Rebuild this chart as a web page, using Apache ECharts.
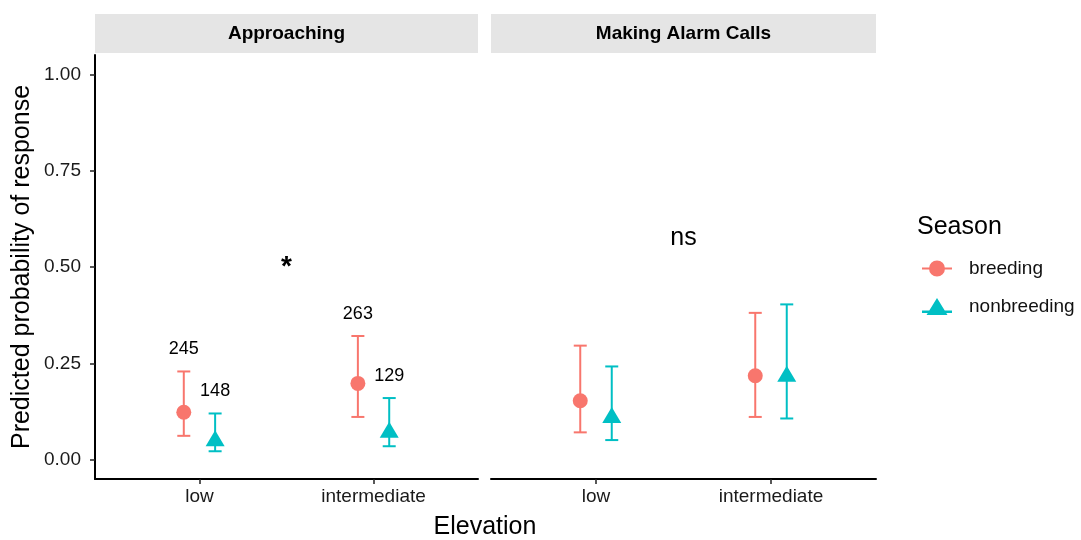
<!DOCTYPE html>
<html>
<head>
<meta charset="utf-8">
<script src="https://cdn.jsdelivr.net/npm/echarts@6/dist/echarts.min.js"></script>
<style>
  html, body { margin: 0; padding: 0; background: #fff; }
  #chart { width: 1081px; height: 540px; }
</style>
</head>
<body>
<div id="chart"></div>
<script>
// data
const elevations = ['low', 'intermediate']
const panels = ['Approaching', 'Making Alarm Calls']
const seasons = ['breeding', 'nonbreeding']

const approachBreedingFit = [0.123, 0.198]
const approachBreedingLow = [0.062, 0.111]
const approachBreedingHigh = [0.229, 0.321]
const approachNonFit = [0.056, 0.078]
const approachNonLow = [0.022, 0.035]
const approachNonHigh = [0.120, 0.160]

const alarmBreedingFit = [0.153, 0.218]
const alarmBreedingLow = [0.071, 0.111]
const alarmBreedingHigh = [0.296, 0.381]
const alarmNonFit = [0.116, 0.223]
const alarmNonLow = [0.051, 0.107]
const alarmNonHigh = [0.242, 0.403]

// sample sizes written above the Approaching points
const countsBreeding = ['245', '263']
const countsBreedingY = [0.287, 0.379]
const countsNon = ['148', '129']
const countsNonY = [0.178, 0.218]

const yTicks = [0, 0.25, 0.5, 0.75, 1]
const sigLabels = ['*', 'ns']
const sigY = [0.5, 0.575]

const colors = { breeding: '#F8766D', nonbreeding: '#00BFC4' }
const dodge = 0.09
const FONT = 'Liberation Sans, Arial, sans-serif'

const chart = echarts.init(document.getElementById('chart'))

function errorBars(name, lows, highs, offset, axisIdx) {
  return {
    type: 'custom',
    name: name + '_err',
    xAxisIndex: axisIdx,
    yAxisIndex: axisIdx,
    z: 2,
    silent: true,
    data: lows.map((lo, i) => [i + 1 + offset, lo, highs[i]]),
    renderItem(params, api) {
      const x = api.value(0)
      const lo = api.coord([x, api.value(1)])
      const hi = api.coord([x, api.value(2)])
      const half = 6.5
      const style = { stroke: colors[name], lineWidth: 2 }
      return {
        type: 'group',
        children: [
          { type: 'line', shape: { x1: lo[0], y1: lo[1], x2: hi[0], y2: hi[1] }, style },
          { type: 'line', shape: { x1: lo[0] - half, y1: lo[1], x2: lo[0] + half, y2: lo[1] }, style },
          { type: 'line', shape: { x1: hi[0] - half, y1: hi[1], x2: hi[0] + half, y2: hi[1] }, style }
        ]
      }
    }
  }
}

function points(name, fits, offset, axisIdx) {
  return {
    type: 'scatter',
    name: name,
    xAxisIndex: axisIdx,
    yAxisIndex: axisIdx,
    z: 3,
    symbol: name === 'breeding' ? 'circle' : 'triangle',
    symbolSize: name === 'breeding' ? 15 : [19, 16],
    itemStyle: { color: colors[name], opacity: 1 },
    data: fits.map((v, i) => [i + 1 + offset, v])
  }
}

function textMarks(labels, ys, offset, axisIdx, fontSize, bold) {
  return {
    type: 'scatter',
    xAxisIndex: axisIdx,
    yAxisIndex: axisIdx,
    symbolSize: 0,
    silent: true,
    z: 4,
    itemStyle: { opacity: 1 },
    label: {
      show: true,
      position: 'inside',
      formatter: p => p.name,
      color: '#000',
      fontFamily: FONT,
      fontSize: fontSize,
      fontWeight: bold ? 'bold' : 'normal'
    },
    data: labels.map((t, i) => ({ name: t, value: [offset[i], ys[i]] }))
  }
}

const grids = [
  { left: 95, top: 55, width: 383, height: 424 },
  { left: 491, top: 55, width: 385, height: 424 }
]

const xAxes = grids.map((g, i) => ({
  type: 'value',
  gridIndex: i,
  min: 0.4,
  max: 2.6,
  splitLine: { show: false },
  axisLine: { show: true, onZero: false, lineStyle: { color: '#000', width: 2 } },
  axisTick: { show: true, customValues: [1, 2], length: 5, lineStyle: { color: '#222', width: 1.5 } },
  axisLabel: {
    customValues: [1, 2],
    formatter: v => elevations[Math.round(v) - 1],
    color: '#1a1a1a',
    fontFamily: FONT,
    fontSize: 19,
    margin: 8
  }
}))

const yAxes = grids.map((g, i) => ({
  type: 'value',
  gridIndex: i,
  min: -0.05,
  max: 1.05,
  show: i === 0,
  name: i === 0 ? 'Predicted probability of response' : '',
  nameLocation: 'middle',
  nameGap: 60,
  nameTextStyle: { fontFamily: FONT, fontSize: 25, color: '#000' },
  splitLine: { show: false },
  axisLine: { show: true, onZero: false, lineStyle: { color: '#000', width: 2 } },
  axisTick: { show: true, customValues: yTicks, length: 5, lineStyle: { color: '#222', width: 1.5 } },
  axisLabel: {
    customValues: yTicks,
    formatter: v => v.toFixed(2),
    color: '#1a1a1a',
    fontFamily: FONT,
    fontSize: 19,
    margin: 14
  }
}))

const series = [
  errorBars('breeding', approachBreedingLow, approachBreedingHigh, -dodge, 0),
  errorBars('nonbreeding', approachNonLow, approachNonHigh, dodge, 0),
  errorBars('breeding', alarmBreedingLow, alarmBreedingHigh, -dodge, 1),
  errorBars('nonbreeding', alarmNonLow, alarmNonHigh, dodge, 1),
  points('breeding', approachBreedingFit, -dodge, 0),
  points('nonbreeding', approachNonFit, dodge, 0),
  points('breeding', alarmBreedingFit, -dodge, 1),
  points('nonbreeding', alarmNonFit, dodge, 1),
  textMarks(countsBreeding, countsBreedingY, [1 - dodge, 2 - dodge], 0, 18, false),
  textMarks(countsNon, countsNonY, [1 + dodge, 2 + dodge], 0, 18, false),
  textMarks([sigLabels[0]], [sigY[0]], [1.5], 0, 28, true),
  textMarks([sigLabels[1]], [sigY[1]], [1.5], 1, 25, false)
]

// facet strips
const strips = grids.map((g, i) => ({
  type: 'group',
  children: [
    { type: 'rect', shape: { x: g.left, y: 14, width: g.width, height: 39 }, style: { fill: '#E5E5E5' } },
    {
      type: 'text',
      x: g.left + g.width / 2,
      y: 34,
      style: {
        text: panels[i],
        fill: '#000',
        font: 'bold 19px ' + FONT,
        textAlign: 'center',
        textVerticalAlign: 'middle'
      }
    }
  ]
}))

chart.setOption({
  animation: false,
  backgroundColor: '#fff',
  title: {
    text: 'Season',
    left: 912,
    top: 210,
    textStyle: { fontFamily: FONT, fontSize: 25, fontWeight: 'normal', color: '#000' }
  },
  legend: {
    data: [
      { name: 'breeding', icon: 'path://M0,8 L30,8 L30,10 L0,10 Z M15,1 A8,8 0 1 1 14.99,1 Z' },
      { name: 'nonbreeding', icon: 'path://M0,12.5 L30,12.5 L30,15 L0,15 Z M15,0 L25.5,17 L4.5,17 Z' }
    ],
    orient: 'vertical',
    left: 917,
    top: 254,
    itemWidth: 30,
    itemHeight: 17,
    itemGap: 19,
    selectedMode: false,
    textStyle: { fontFamily: FONT, fontSize: 19, color: '#111', padding: [0, 0, 0, 12] }
  },
  grid: grids,
  xAxis: xAxes,
  yAxis: yAxes,
  graphic: strips.concat([
    {
      type: 'text',
      x: 485,
      y: 527,
      style: {
        text: 'Elevation',
        fill: '#000',
        font: '25px ' + FONT,
        textAlign: 'center',
        textVerticalAlign: 'middle'
      }
    }
  ]),
  series: series
})
</script>
</body>
</html>
